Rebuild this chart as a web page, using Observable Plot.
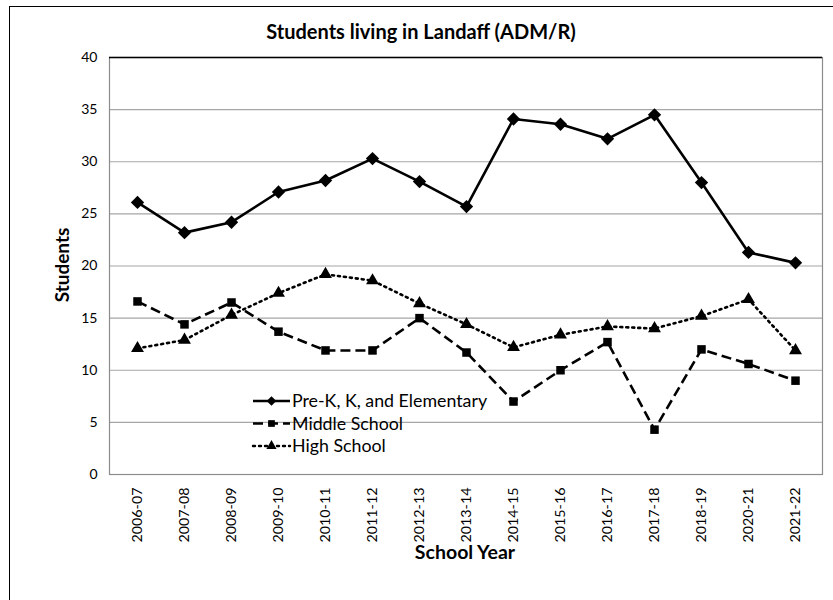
<!DOCTYPE html>
<html>
<head>
<meta charset="utf-8">
<script src="https://cdn.jsdelivr.net/npm/d3@7"></script>
<script src="https://cdn.jsdelivr.net/npm/@observablehq/plot@0.6"></script>
<style>
  html, body { margin: 0; padding: 0; background: #fff; }
  #wrap { position: relative; width: 833px; height: 600px; overflow: hidden; font-family: Lato, "Noto Sans", sans-serif; }
  #border { position: absolute; left: 9px; top: 6px; width: 900px; height: 700px; border-left: 1.5px solid #000; border-top: 1.5px solid #000; box-sizing: border-box; }
  #title { position: absolute; left: 0; width: 842px; top: 19px; text-align: center; font-weight: bold; font-size: 20px; color: #000; }
  #ylab { position: absolute; left: 61px; top: 265px; transform: translate(-50%, -50%) rotate(-90deg); font-weight: bold; font-size: 19px; white-space: nowrap; }
  #xlab { position: absolute; left: 465px; top: 551px; transform: translate(-50%, -50%); font-weight: bold; font-size: 19.5px; white-space: nowrap; }
  #chart { position: absolute; left: 0; top: 0; }
  #legend { position: absolute; left: 0; top: 0; pointer-events: none; }
</style>
</head>
<body>
<div id="wrap">
  <div id="border"></div>
  <div id="chart"></div>
  <div id="title">Students living in Landaff (ADM/R)</div>
  <div id="ylab">Students</div>
  <div id="xlab">School Year</div>
  <svg id="legend" width="833" height="600"></svg>
</div>
<script>
const years = ["2006-07","2007-08","2008-09","2009-10","2010-11","2011-12","2012-13","2013-14","2014-15","2015-16","2016-17","2017-18","2018-19","2020-21","2021-22"];
const elementary = [26.1,23.2,24.2,27.1,28.2,30.3,28.1,25.7,34.1,33.6,32.2,34.5,28.0,21.3,20.3];
const middle = [16.6,14.4,16.5,13.7,11.9,11.9,15.0,11.7,7.0,10.0,12.7,4.3,12.0,10.6,9.0];
const high = [12.1,12.9,15.3,17.4,19.2,18.6,16.4,14.4,12.2,13.4,14.2,14.0,15.2,16.8,11.9];
const seriesNames = ["Pre-K, K, and Elementary","Middle School","High School"];
const yTicks = [0,5,10,15,20,25,30,35,40];

const seriesValues = [elementary, middle, high];
const dashes = [null, "10,5", "2,4"];
const symbols = ["diamond2", "square", "triangle"];
const caps = ["butt", "butt", "round"];

const rows = (i) => years.map((y, j) => ({year: y, value: seriesValues[i][j], series: seriesNames[i]}));

const marks = [
  Plot.gridY(yTicks.filter(d => d > 0 && d < 40), {stroke: "#a6a6a6", strokeOpacity: 1, strokeWidth: 1.2}),
  Plot.frame({stroke: "#8c8c8c", strokeWidth: 1.2}),
  Plot.ruleY([40], {stroke: "#000", strokeWidth: 1.3}),
  Plot.axisY({ticks: yTicks, tickSize: 0, tickPadding: 12, fontSize: 14, label: null}),
  Plot.axisX({tickRotate: -90, tickSize: 0, tickPadding: 13, fontSize: 14.3, label: null})
];
seriesNames.forEach((name, i) => {
  marks.push(Plot.line(rows(i), {x: "year", y: "value", stroke: "#000", strokeWidth: 2.6, strokeDasharray: dashes[i], strokeLinecap: caps[i]}));
  marks.push(Plot.dot(rows(i), {x: "year", y: "value", symbol: () => symbols[i], fill: "#000", stroke: "none", r: i === 0 ? 6 : 4.8}));
});

const chart = Plot.plot({
  width: 833,
  height: 600,
  marginLeft: 109,
  marginRight: 11,
  marginTop: 57,
  marginBottom: 126,
  style: {fontFamily: "Lato, 'Noto Sans', sans-serif", fontSize: "14px", color: "#000", background: "transparent"},
  x: {type: "point", domain: years, padding: 0.5},
  y: {domain: [0, 40], label: null},
  marks
});
document.getElementById("chart").appendChild(chart);

// Legend (inside plot area, as in the reference)
const leg = d3.select("#legend");
const symGen = {
  "diamond2": d3.symbol(d3.symbolDiamond2, 60),
  "square": d3.symbol(d3.symbolSquare, 45),
  "triangle": d3.symbol(d3.symbolTriangle, 45)
};
seriesNames.forEach((name, i) => {
  const g = leg.append("g").attr("transform", `translate(253,${401 + i * 22.5})`);
  g.append("line").attr("x1", 0).attr("x2", 37).attr("y1", 0).attr("y2", 0)
    .attr("stroke", "#000").attr("stroke-width", 2.4)
    .attr("stroke-dasharray", dashes[i]).attr("stroke-linecap", caps[i]);
  g.append("path").attr("d", symGen[symbols[i]]()).attr("transform", "translate(18.5,0)").attr("fill", "#000");
  g.append("text").attr("x", 39).attr("y", 0).attr("dy", "0.36em")
    .attr("font-size", 17.8).attr("font-family", "Lato, 'Noto Sans', sans-serif").text(name);
});
</script>
</body>
</html>
